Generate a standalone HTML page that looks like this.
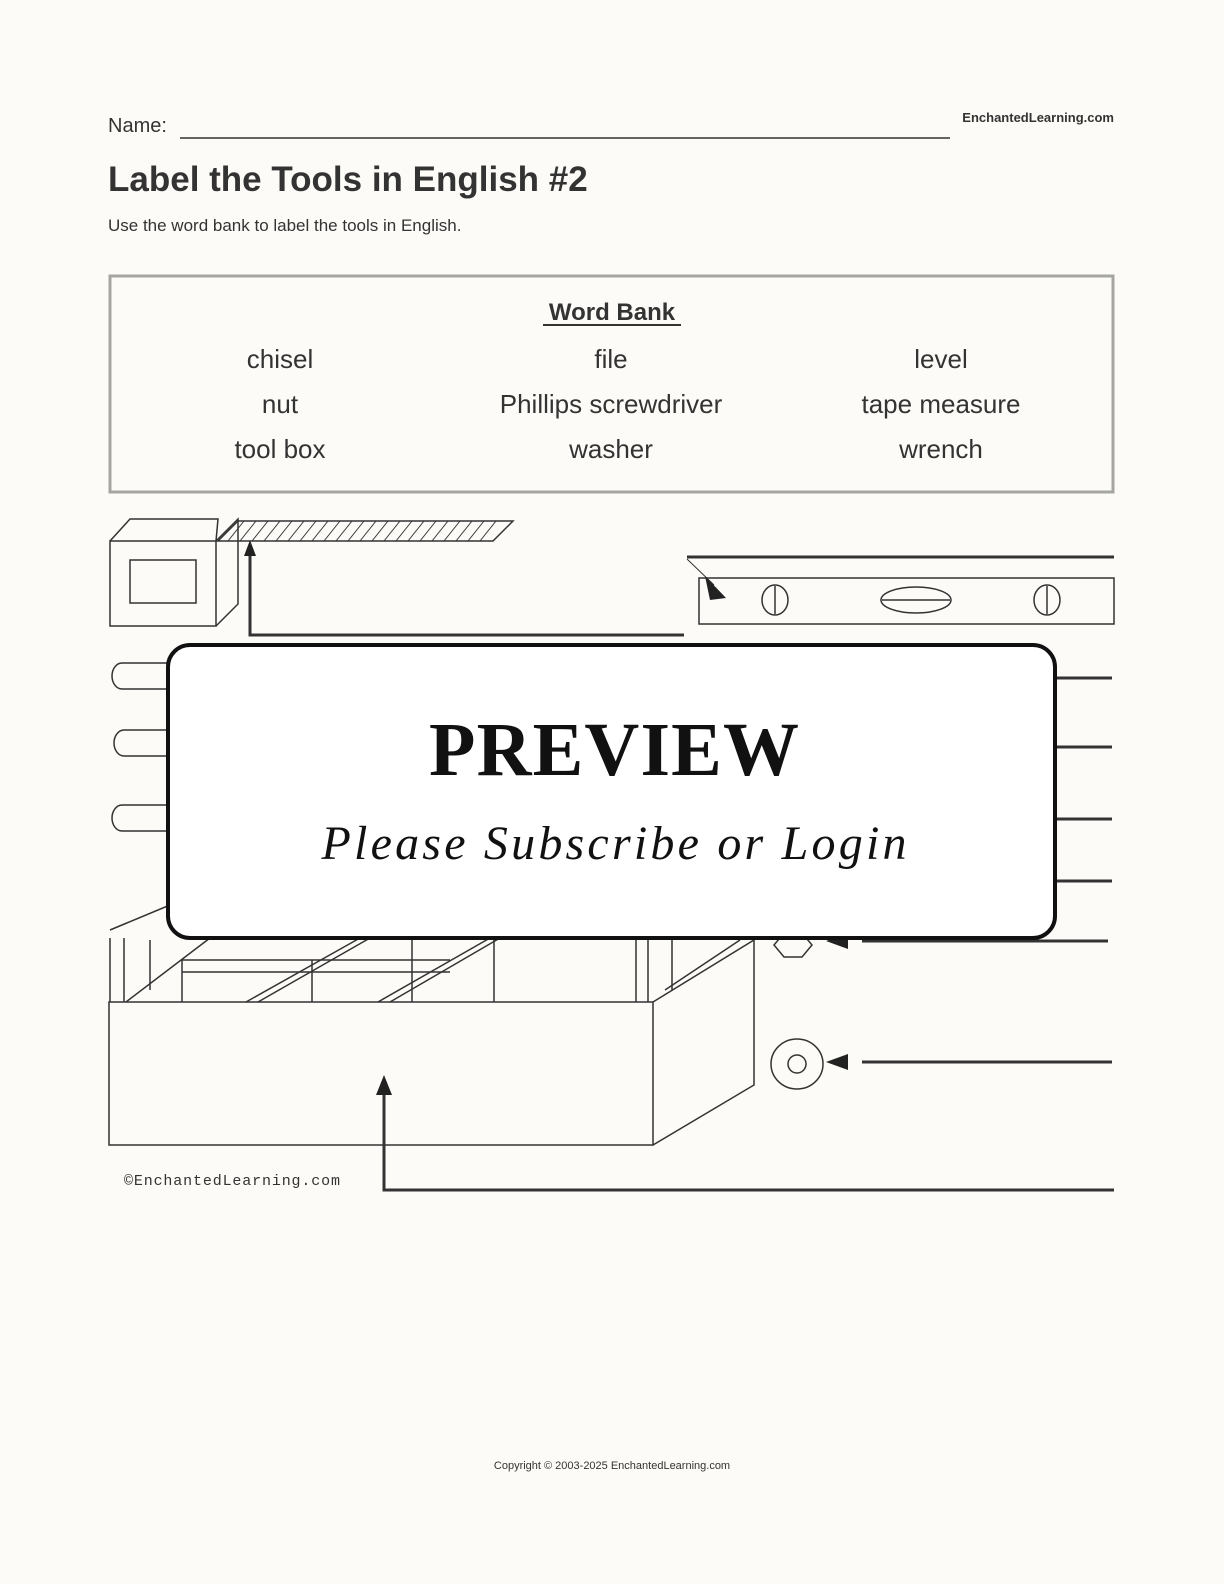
<!DOCTYPE html>
<html><head><meta charset="utf-8"><style>
html,body{margin:0;padding:0;background:#fcfbf7;}
svg{display:block}
.s{font-family:"Liberation Sans","DejaVu Sans",sans-serif;fill:#333}
</style></head><body>
<svg width="1224" height="1584" viewBox="0 0 1224 1584" xmlns="http://www.w3.org/2000/svg">
<rect width="1224" height="1584" fill="#fcfbf7"/>
<text x="108" y="132" class="s" font-size="20">Name:</text>
<line x1="180" y1="138" x2="950" y2="138" stroke="#333" stroke-width="1.5"/>
<text x="1114" y="122" class="s" font-size="13" font-weight="bold" text-anchor="end">EnchantedLearning.com</text>
<text x="108" y="191" class="s" font-size="35" font-weight="bold">Label the Tools in English #2</text>
<text x="108" y="231" class="s" font-size="17">Use the word bank to label the tools in English.</text>
<rect x="110" y="276" width="1003" height="216" fill="none" stroke="#a5a5a3" stroke-width="3"/>
<text x="612" y="320" class="s" font-size="24" font-weight="bold" text-anchor="middle">Word Bank</text>
<line x1="543" y1="325" x2="681" y2="325" stroke="#333" stroke-width="2"/>
<g class="s" font-size="26" text-anchor="middle">
<text x="280" y="368">chisel</text><text x="611" y="368">file</text><text x="941" y="368">level</text>
<text x="280" y="413">nut</text><text x="611" y="413">Phillips screwdriver</text><text x="941" y="413">tape measure</text>
<text x="280" y="458">tool box</text><text x="611" y="458">washer</text><text x="941" y="458">wrench</text>
</g>
<g fill="none" stroke="#333" stroke-width="1.5">
<rect x="110" y="541" width="106" height="85"/>
<polyline points="110,541 130,519 218,519 216,541"/>
<polyline points="216,541 238,519 238,604 216,626"/>
<rect x="130" y="560" width="66" height="43"/>
<polygon points="218,541 238,521 513,521 493,541"/>
<g stroke-width="1">
<path d="M228,541l16,-20M240,541l16,-20M252,541l16,-20M264,541l16,-20M276,541l16,-20M288,541l16,-20M300,541l16,-20M312,541l16,-20M324,541l16,-20M336,541l16,-20M348,541l16,-20M360,541l16,-20M372,541l16,-20M384,541l16,-20M396,541l16,-20M408,541l16,-20M420,541l16,-20M432,541l16,-20M444,541l16,-20M456,541l16,-20M468,541l16,-20M480,541l16,-20"/>
</g>
<polyline points="250,548 250,635 684,635" stroke-width="3"/>
<line x1="687" y1="557" x2="1114" y2="557" stroke-width="3"/>
<rect x="699" y="578" width="415" height="46"/>
<line x1="687" y1="559" x2="714" y2="585" stroke-width="1"/>
<ellipse cx="775" cy="600" rx="13" ry="15"/><line x1="775" y1="586" x2="775" y2="614"/>
<ellipse cx="1047" cy="600" rx="13" ry="15"/><line x1="1047" y1="586" x2="1047" y2="614"/>
<ellipse cx="916" cy="600" rx="35" ry="13"/><line x1="882" y1="600" x2="950" y2="600"/>
<path d="M170,663 H122 a10,13 0 0 0 0,26 H170"/>
<path d="M170,730 H124 a10,13 0 0 0 0,26 H170"/>
<path d="M170,805 H122 a10,13 0 0 0 0,26 H170"/>
<g stroke-width="3"><line x1="1050" y1="678" x2="1112" y2="678"/><line x1="1050" y1="747" x2="1112" y2="747"/><line x1="1050" y1="819" x2="1112" y2="819"/><line x1="1050" y1="881" x2="1112" y2="881"/><line x1="862" y1="941" x2="1108" y2="941"/><line x1="862" y1="1062" x2="1112" y2="1062"/></g>
<rect x="109" y="1002" width="544" height="143"/>
<polyline points="653,1002 754,940 754,1085 653,1145"/>
<path d="M110,938V1002M124,938V1002M150,940V990M182,960V1002M312,960V1002M412,940V1002M494,938V1002M636,938V1002M648,938V1002M672,940V990"/>
<path d="M182,960H450M182,972H450"/>
<path d="M126,1002 L210,938 M246,1002 L360,938 M258,1002 L370,938 M378,1002 L490,938 M390,1002 L500,938 M665,990 L740,940 M110,930 L170,905"/>
<ellipse cx="797" cy="1064" rx="26" ry="25"/><ellipse cx="797" cy="1064" rx="9" ry="9"/>
<path d="M774,945 l10,-12 l18,0 l10,12 l-10,12 l-18,0z"/>
<polyline points="384,1090 384,1190 1114,1190" stroke-width="3"/>
</g>
<g fill="#222">
<polygon points="250,540 244,556 256,556"/>
<polygon points="705,576 726,598 710,600"/>
<polygon points="826,941 848,933 848,949"/>
<polygon points="826,1062 848,1054 848,1070"/>
<polygon points="384,1075 376,1095 392,1095"/>
</g>
<text x="124" y="1185" font-family="Liberation Mono,monospace" font-size="15" fill="#333" textLength="216">©EnchantedLearning.com</text>
<rect x="168" y="645" width="887" height="293" rx="22" fill="#fff" stroke="#111" stroke-width="4"/>
<text x="614" y="775" text-anchor="middle" font-family="Liberation Serif,serif" font-size="76" font-weight="bold" fill="#111" textLength="370">PREVIEW</text>
<text x="614" y="859" text-anchor="middle" font-family="Liberation Serif,serif" font-size="48" font-style="italic" fill="#111" textLength="585">Please Subscribe or Login</text>
<text x="612" y="1469" text-anchor="middle" class="s" font-size="11">Copyright © 2003-2025 EnchantedLearning.com</text>
</svg>
</body></html>
